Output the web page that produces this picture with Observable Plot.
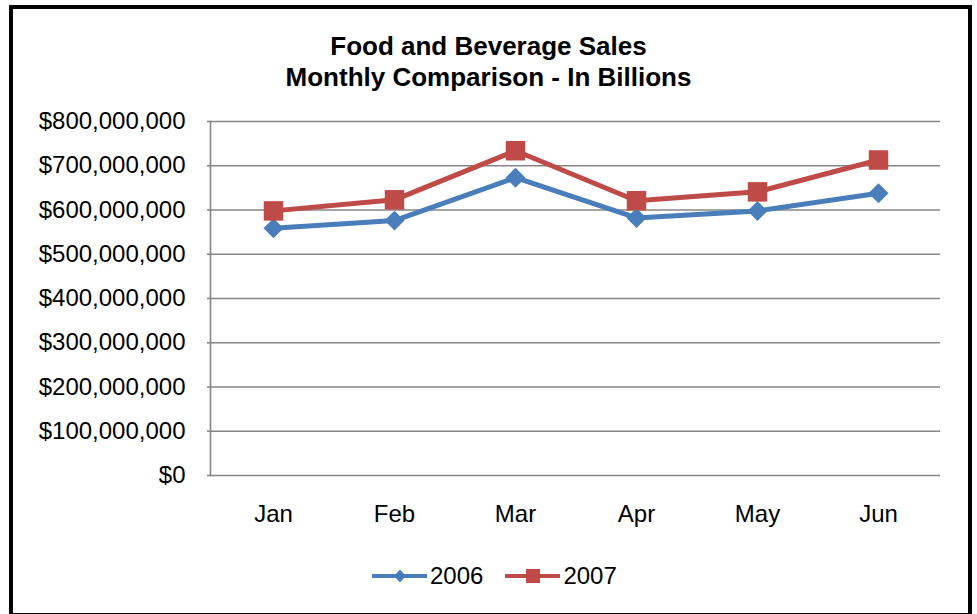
<!DOCTYPE html>
<html>
<head>
<meta charset="utf-8">
<script src="https://cdn.jsdelivr.net/npm/d3@7"></script>
<script src="https://cdn.jsdelivr.net/npm/@observablehq/plot@0.6"></script>
<style>
  html, body { margin: 0; padding: 0; background: #fff; }
  body { position: relative; width: 977px; height: 614px; overflow: hidden; font-family: "Liberation Sans", Arial, sans-serif; }
  #frame { position: absolute; left: 9px; top: 5px; width: 963px; height: 612px; box-sizing: border-box; border: 4px solid #000; }
  #chart { position: absolute; left: 0; top: 0; }
  #title { position: absolute; left: 0; top: 31px; width: 977px; text-align: center; font-weight: bold; font-size: 26px; line-height: 31px; color: #000; }
  #legend { position: absolute; left: 372px; top: 563px; height: 26px; display: flex; align-items: center; font-size: 24px; color: #000; }
  #legend .item { display: flex; align-items: center; }
  #legend svg { display: block; }
</style>
</head>
<body>
<div id="frame"></div>
<div id="chart"></div>
<div id="title">Food and Beverage Sales<br>Monthly Comparison - In Billions</div>
<div id="legend"></div>
<script>
const months = ["Jan", "Feb", "Mar", "Apr", "May", "Jun"];
const series = ["2006", "2007"];
const sales2006 = [559e6, 576e6, 673e6, 582e6, 598e6, 638e6];
const sales2007 = [598e6, 623e6, 734e6, 621e6, 641e6, 713e6];
const yTicks = [0, 100e6, 200e6, 300e6, 400e6, 500e6, 600e6, 700e6, 800e6];
const colors = ["#4A7EBB", "#BE4B48"];

const data = [];
months.forEach((m, i) => {
  data.push({month: m, year: "2006", value: sales2006[i]});
  data.push({month: m, year: "2007", value: sales2007[i]});
});

const grid = "#868686";
const chart = Plot.plot({
  width: 977,
  height: 614,
  marginLeft: 210,
  marginRight: 37,
  marginTop: 121,
  marginBottom: 139,
  style: {fontFamily: "'Liberation Sans', Arial, sans-serif", fontSize: "24px", color: "#000", background: "transparent", overflow: "visible"},
  x: {type: "point", domain: months, padding: 0.5},
  y: {domain: [0, 800e6]},
  color: {domain: series, range: colors},
  marks: [
    Plot.gridY(yTicks, {stroke: grid, strokeOpacity: 1, strokeWidth: 1.6}),
    Plot.frame({anchor: "left", stroke: grid, strokeWidth: 1.6}),
    Plot.axisY(yTicks, {tickSize: 3, tickPadding: 22, stroke: grid, strokeWidth: 1.6, tickFormat: d3.format("$,.0f"), label: null, fill: "#000"}),
    Plot.axisX({tickSize: 0, tickPadding: 29, label: null, fill: "#000"}),
    Plot.line(data, {x: "month", y: "value", stroke: "year", strokeWidth: 5, strokeLinejoin: "round"}),
    Plot.dot(data.filter(d => d.year === "2006"), {x: "month", y: "value", symbol: "diamond2", r: 9, fill: colors[0], stroke: "none"}),
    Plot.dot(data.filter(d => d.year === "2007"), {x: "month", y: "value", symbol: "square", r: 11, fill: colors[1], stroke: "none"})
  ]
});
document.getElementById("chart").appendChild(chart);

// legend
const legend = d3.select("#legend");
series.forEach((s, i) => {
  const item = legend.append("div").attr("class", "item").style("margin-right", i === 0 ? "22px" : "0");
  const svg = item.append("svg").attr("width", 56).attr("height", 20);
  svg.append("line").attr("x1", 0).attr("x2", 55).attr("y1", 10).attr("y2", 10)
    .attr("stroke", colors[i]).attr("stroke-width", 4);
  if (i === 0) {
    svg.append("path").attr("d", "M28,3.5L34,10L28,16.5L22,10Z").attr("fill", colors[i]);
  } else {
    svg.append("rect").attr("x", 21).attr("y", 3).attr("width", 14).attr("height", 14).attr("fill", colors[i]);
  }
  item.append("span").style("margin-left", "2px").text(s);
});
</script>
</body>
</html>
